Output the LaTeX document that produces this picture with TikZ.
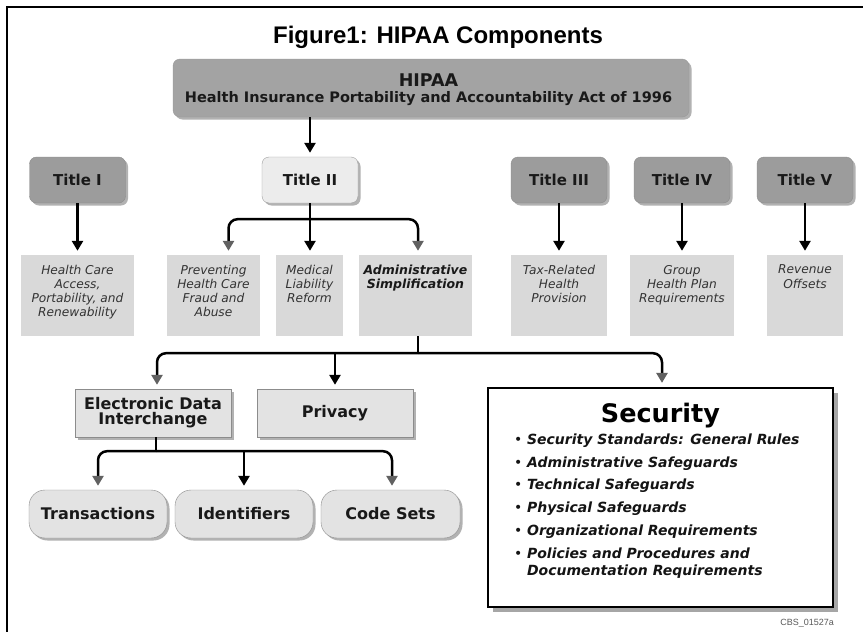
\documentclass[tikz,border=0pt]{standalone}
\usepackage{fontspec}
\usetikzlibrary{arrows.meta,shadows}
\newfontfamily\dvs{DejaVu Sans}[BoldFont={DejaVu Sans Bold},ItalicFont={DejaVu Sans Oblique},BoldItalicFont={DejaVu Sans Bold Oblique}]
\newfontfamily\libsans{Liberation Sans}
\definecolor{hipaafill}{HTML}{A3A3A3}
\definecolor{boxdark}{HTML}{9C9C9C}
\definecolor{boxlight}{HTML}{ECECEC}
\definecolor{boxgray}{HTML}{D9D9D9}
\definecolor{boxsq}{HTML}{E3E3E3}
\definecolor{gtextc}{HTML}{333333}
\newcommand{\bul}{\makebox[12pt][l]{\kern-1pt\upshape\mdseries\textbullet}}
\begin{document}
\begin{tikzpicture}[x=1pt,y=-1pt,
  shd/.style={drop shadow={shadow xshift=2.5pt,shadow yshift=-2.5pt,fill=black!30,opacity=1}},
  hipaabox/.style={draw=black!40, fill=hipaafill, rounded corners=7pt, minimum width=516pt, minimum height=58pt, inner sep=0pt, shd},
  htext/.style={anchor=base, inner sep=0pt, font=\dvs\bfseries, text=black!90},
  titlebox/.style={draw=black!45, fill=boxdark, rounded corners=7pt, minimum width=96pt, minimum height=46pt, inner sep=0pt, font=\dvs\bfseries\fontsize{15}{18}\selectfont, text=black!90, shd},
  lightbox/.style={titlebox, fill=boxlight, draw=black!38},
  graybox/.style={fill=boxgray, inner sep=0pt, minimum height=81pt},
  gtext/.style={font=\dvs\itshape\fontsize{12.2}{14.2}\selectfont, text=gtextc, align=center, inner sep=0pt, anchor=north},
  gbtext/.style={font=\dvs\bfseries\itshape\fontsize{12.5}{14.2}\selectfont, text=black!90, align=center, inner sep=0pt, anchor=north},
  sqbox/.style={draw=black!45, fill=boxsq, minimum width=156pt, minimum height=48pt, inner sep=0pt, align=center, font=\dvs\bfseries\fontsize{16}{15}\selectfont, text=black!90, shd},
  pill/.style={draw=black!45, fill=boxsq, rounded corners=16pt, minimum width=138pt, minimum height=48pt, inner sep=0pt, font=\dvs\bfseries\fontsize{16}{18}\selectfont, text=black!90, shd},
  secbox/.style={draw=black, line width=2.2pt, fill=white, minimum width=345pt, minimum height=219pt, inner sep=0pt, drop shadow={shadow xshift=5pt,shadow yshift=-5pt,fill=black!35,opacity=1}},
  link/.style={line width=2.5pt, line cap=butt},
  arr/.style={link, -{Triangle[width=11pt,length=10pt]}, shorten >=4pt},
  arrg/.style={link, -{Triangle[width=11pt,length=10pt,color=black!62]}, shorten >=4pt, rounded corners=9pt}
]
\useasboundingbox (0,0) rectangle (863,632);
\fill[white] (0,0) rectangle (863,632);
% frame
\draw[line width=2pt] (7,632) -- (7,7) -- (863,7);

% title
\node[anchor=base, inner sep=0pt, font=\libsans\bfseries\fontsize{24}{28}\selectfont] (ttl) at (438,43) {Figure1: HIPAA Components};

% HIPAA box
\node[hipaabox] (hipaa) at (431,88) {};
\node[htext, font=\dvs\bfseries\fontsize{17.5}{18}\selectfont] (hipaa1) at ([xshift=-2.5pt,yshift=2pt]hipaa.center) {HIPAA};
\node[htext, font=\dvs\bfseries\fontsize{14.5}{16}\selectfont] (hipaa2) at ([xshift=-2.5pt,yshift=-14.3pt]hipaa.center) {Health Insurance Portability and Accountability Act of 1996};

% titles
\node[titlebox]  (t1) at (77.5,180) {Title I};
\node[lightbox]  (t2) at (310,180) {Title II};
\node[titlebox]  (t3) at (559,180) {Title III};
\node[titlebox]  (t4) at (682,180) {Title IV};
\node[titlebox]  (t5) at (805,180) {Title V};

% content boxes
\node[graybox, minimum width=113pt] (hc)   at (77.5,295.5) {};
\node[graybox, minimum width=93pt]  (prev) at (213.5,295.5) {};
\node[graybox, minimum width=67pt]  (med)  at (309.5,295.5) {};
\node[graybox, minimum width=113pt] (adm)  at (415.5,295.5) {};
\node[graybox, minimum width=96pt]  (tax)  at (559,295.5) {};
\node[graybox, minimum width=104pt] (grp)  at (682,295.5) {};
\node[graybox, minimum width=76pt]  (rev)  at (805,295.5) {};

\node[gtext] (hct)   at ([yshift=-10pt]hc.north)   {Health Care\\Access,\\Portability, and\\Renewability};
\node[gtext] (prevt) at ([yshift=-10pt]prev.north) {Preventing\\Health Care\\Fraud and\\Abuse};
\node[gtext] (medt)  at ([yshift=-10pt]med.north)  {Medical\\Liability\\Reform};
\node[gbtext] (admt) at ([yshift=-10pt]adm.north)  {Administrative\\Simplification};
\node[gtext] (taxt)  at ([yshift=-10pt]tax.north)  {Tax-Related\\Health\\Provision};
\node[gtext] (grpt)  at ([yshift=-10pt]grp.north)  {Group\\Health Plan\\Requirements};
\node[gtext] (revt)  at ([yshift=-10pt]rev.north)  {Revenue\\Offsets};

% second level
\node[sqbox] (edi)  at (153,413) {Electronic Data\\Interchange};
\node[sqbox] (priv) at (335,413) {Privacy};

\node[pill] (trans) at (98,514)    {Transactions};
\node[pill] (ident) at (244,514)   {Identifiers};
\node[pill, minimum width=139pt] (code) at (390.5,514) {Code Sets};

% security
\node[secbox] (sec) at (660.5,497.5) {};
\node[anchor=base, inner sep=0pt, font=\dvs\bfseries\fontsize{25.5}{28}\selectfont] (sech) at ([yshift=-36pt]sec.north) {Security};
\node[anchor=north west, inner sep=0pt, align=left, font=\dvs\bfseries\itshape\fontsize{14}{17}\selectfont, text=black!92] (secl)
  at ([xshift=28pt,yshift=-46.5pt]sec.north west)
  {\bul Security Standards: General Rules\\[5.8pt]
   \bul Administrative Safeguards\\[5.8pt]
   \bul Technical Safeguards\\[5.8pt]
   \bul Physical Safeguards\\[5.8pt]
   \bul Organizational Requirements\\[5.8pt]
   \bul Policies and Procedures and\\
   \hspace*{12pt}Documentation Requirements};
\node[anchor=base east, inner sep=0pt, font=\libsans\fontsize{9}{10}\selectfont, text=black!65] (cbs) at ([yshift=-17pt]sec.south east) {CBS\_01527a};

% connectors
\draw[arr] (hipaa.south -| t2.north) -- (t2.north);
\draw[arr] (t1.south) -- (hc.north);
\draw[arr] (t3.south) -- (tax.north);
\draw[arr] (t4.south) -- (grp.north);
\draw[arr] (t5.south) -- (rev.north);

\coordinate (j2) at ([yshift=-16pt]t2.south);
\draw[arrg] (j2) -| ([xshift=15pt]prev.north);
\draw[arrg] (j2) -| ([xshift=2.5pt]adm.north);
\draw[arr] (t2.south) -- (t2.south |- med.north);

\coordinate (j3) at ([xshift=2.5pt,yshift=-17pt]adm.south);
\draw[link] ([xshift=2.5pt]adm.south) -- (j3);
\draw[arrg] (j3) -| ([xshift=4pt]edi.north);
\draw[arrg] (j3) -| ([xshift=1.5pt]sec.north);
\draw[arr] (j3 -| priv.north) -- (priv.north);

\coordinate (j4) at ([xshift=3pt,yshift=-14pt]edi.south);
\draw[link] ([xshift=3pt]edi.south) -- (j4);
\draw[arrg] (j4) -| (trans.north);
\draw[arrg] (j4) -| ([xshift=1.5pt]code.north);
\draw[arr] (j4 -| ident.north) -- (ident.north);
\end{tikzpicture}
\end{document}
